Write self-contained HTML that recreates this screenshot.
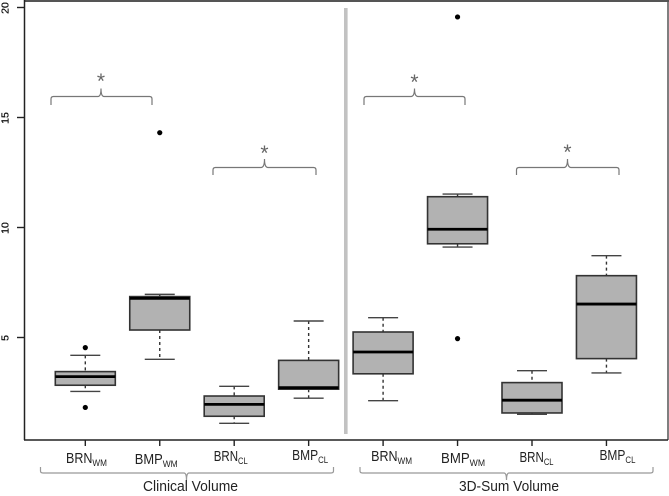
<!DOCTYPE html>
<html>
<head>
<meta charset="utf-8">
<style>
html,body{margin:0;padding:0;background:#fff;width:669px;height:496px;overflow:hidden}
svg{display:block}
text{font-family:"Liberation Sans",sans-serif}
</style>
</head>
<body>
<svg id="chart" width="669" height="496" viewBox="0 0 669 496" xmlns="http://www.w3.org/2000/svg">
  <rect x="0" y="0" width="669" height="496" fill="#fff"/>
  <g id="frame" stroke-width="1.5" fill="none">
    <line x1="24" y1="1" x2="669" y2="1" stroke="#555" stroke-width="2"/>
    <line x1="668" y1="0" x2="668" y2="440" stroke="#555"/>
    <line x1="24.5" y1="0" x2="24.5" y2="440" stroke="#222"/>
    <line x1="24" y1="440" x2="668" y2="440" stroke="#222"/>
  </g>
  <rect x="344" y="8" width="3.6" height="426" fill="#c2c2c2"/>

  <g fill="none" stroke="#777" stroke-width="1.2">
    <path d="M51 105V99Q51 96.500 53.500 96.500H98Q101 96.500 101 88.500Q101 96.500 104 96.500H149.500Q152 96.500 152 99V105"/>
    <path d="M213 175V170Q213 167.500 215.500 167.500H261Q264.500 167.500 264.500 159Q264.500 167.500 268 167.500H313.500Q316 167.500 316 170V175"/>
    <path d="M364 105V99Q364 96.500 366.500 96.500H411Q414.500 96.500 414.500 88.500Q414.500 96.500 418 96.500H462.500Q465 96.500 465 99V105"/>
    <path d="M516.500 175V170Q516.500 167.500 519 167.500H564Q567.500 167.500 567.500 159Q567.500 167.500 571 167.500H616.500Q619 167.500 619 170V175"/>
  </g>
  <g fill="#666" font-size="21" text-anchor="middle">
    <text x="101" y="88">*</text>
    <text x="264.500" y="160">*</text>
    <text x="414.500" y="89">*</text>
    <text x="567.500" y="159">*</text>
  </g>

  <g fill="none" stroke="#999" stroke-width="1.2">
    <path d="M40.500 467V471Q40.500 473 43 473H184Q186.500 473 186.500 480Q186.500 473 189 473H331Q333.500 473 333.500 471V467"/>
    <path d="M360 467V471Q360 473 362.500 473H504Q506.500 473 506.500 480Q506.500 473 509 473H650.500Q653 473 653 471V467"/>
  </g>
  <text x="143" y="491" font-size="15" fill="#222" textLength="95" lengthAdjust="spacingAndGlyphs">Clinical Volume</text>
  <text x="459" y="491" font-size="15" fill="#222" textLength="100" lengthAdjust="spacingAndGlyphs">3D-Sum Volume</text>
  <g id="marks"></g>
</svg>
<script>
var NS = 'http://www.w3.org/2000/svg';

var yTicks = [5, 10, 15, 20];
var categoryNames = ['BRN', 'BMP', 'BRN', 'BMP', 'BRN', 'BMP', 'BRN', 'BMP'];
var categorySubs = ['WM', 'WM', 'CL', 'CL', 'WM', 'WM', 'CL', 'CL'];
var whiskerHigh = [4.19, 6.96, 2.78, 5.75, 5.90, 11.52, 3.49, 8.72];
var boxQ3 = [3.45, 6.86, 2.34, 3.96, 5.25, 11.40, 2.95, 7.81];
var boxMedian = [3.22, 6.78, 1.96, 2.72, 4.34, 9.92, 2.15, 6.52];
var boxQ1 = [2.83, 5.34, 1.42, 2.65, 3.35, 9.26, 1.57, 4.04];
var whiskerLow = [2.55, 4.01, 1.10, 2.24, 2.13, 9.11, 1.51, 3.39];
var outliers = [[4.54, 1.82], [14.31], [], [], [], [19.57, 4.95], [], []];

function yScale(v) { return 447.5 - 22 * v; }
function xScale(i) { return 85.3 + 74.45 * i; }

var root = document.getElementById('marks');
function add(parent, tag, attrs) {
  var el = document.createElementNS(NS, tag);
  for (var k in attrs) el.setAttribute(k, attrs[k]);
  parent.appendChild(el);
  return el;
}

yTicks.forEach(function (t) {
  var y = yScale(t);
  var tick = add(root, 'line', { x1: 17, x2: 24.5, y1: y, y2: y, stroke: '#222', 'stroke-width': 1.4 });
  
  
  var label = add(root, 'text', { transform: 'translate(8.5 ' + (y + 0.5) + ') rotate(-90)', 'text-anchor': 'middle', 'font-size': 10.5, fill: '#111', stroke: '#111', 'stroke-width': 0.25 });
  label.textContent = t;
  
  
});

categoryNames.forEach(function (name, i) {
  var x = xScale(i);
  var g = add(root, 'g', {});
  
  

  var hi = yScale(whiskerHigh[i]), lo = yScale(whiskerLow[i]);
  var q3 = yScale(boxQ3[i]), q1 = yScale(boxQ1[i]), med = yScale(boxMedian[i]);
  var wUp = add(g, 'line', { x1: x, x2: x, y1: hi, y2: q3, stroke: '#333', 'stroke-width': 1.4, 'stroke-dasharray': '3 3' });
  
  
  var wDown = add(g, 'line', { x1: x, x2: x, y1: q1, y2: lo, stroke: '#333', 'stroke-width': 1.4, 'stroke-dasharray': '3 3' });
  
  
  var capUp = add(g, 'line', { x1: x - 15, x2: x + 15, y1: hi, y2: hi, stroke: '#444', 'stroke-width': 1.4 });
  
  
  var capDown = add(g, 'line', { x1: x - 15, x2: x + 15, y1: lo, y2: lo, stroke: '#444', 'stroke-width': 1.4 });
  
  
  var box = add(g, 'rect', { x: x - 30, y: q3, width: 60, height: q1 - q3, fill: '#b2b2b2', stroke: '#333', 'stroke-width': 1.6 });
  
  
  var median = add(g, 'line', { x1: x - 30, x2: x + 30, y1: med, y2: med, stroke: '#000', 'stroke-width': 2.8 });
  
  
  outliers[i].forEach(function (v) {
    var pt = add(g, 'circle', { cx: x, cy: yScale(v), r: 2.6, fill: '#000' });
    
    
  });

  var tick = add(root, 'line', { x1: x, x2: x, y1: 440, y2: 446, stroke: '#222', 'stroke-width': 1.4 });
  
  

  var offsetX = [1.2, -3.5, -3.5, 1.5, 8.5, 5.5, 4.5, 11][i];
  var offsetY = [3, 4, 1, 0, 1, 3, 2, 0][i];
  var labelWidth = [41, 43, 34, 36, 41, 44, 34, 36][i];
  var label = add(root, 'text', { x: x + offsetX, y: 460 + offsetY, 'text-anchor': 'middle', 'font-size': 14.5, fill: '#222', textLength: labelWidth, lengthAdjust: 'spacingAndGlyphs' });
  
  
  label.appendChild(document.createTextNode(name));
  var sub = add(label, 'tspan', { dy: 3, 'font-size': 9.5 });
  sub.textContent = categorySubs[i];
});
</script>
</body>
</html>
